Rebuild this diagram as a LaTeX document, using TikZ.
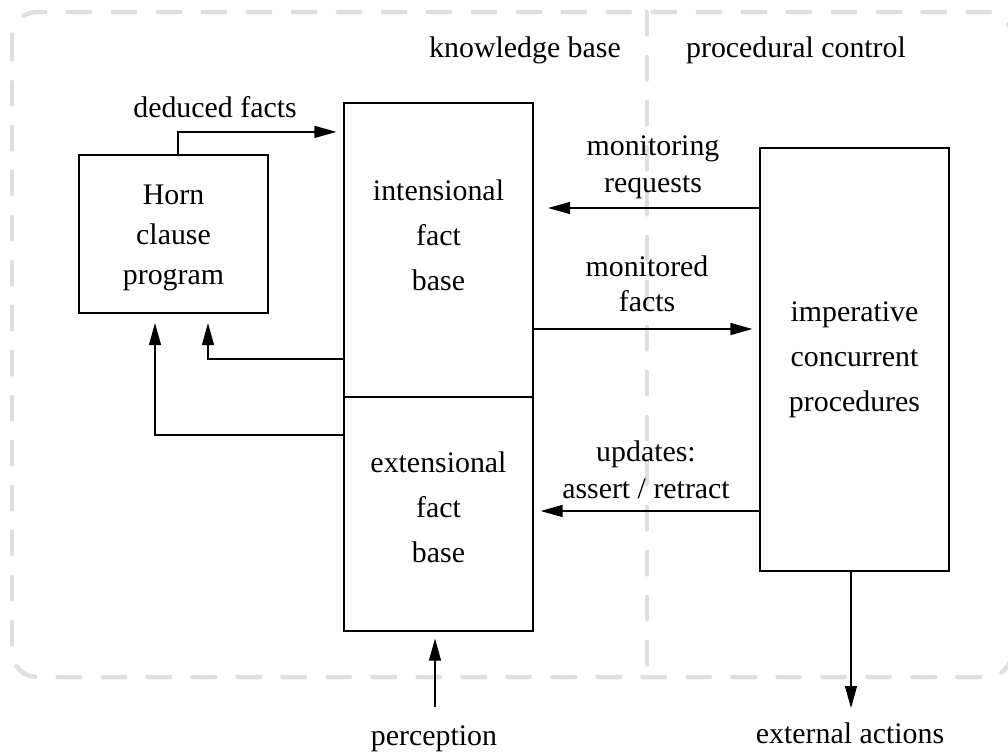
\documentclass[tikz,border=0pt]{standalone}
\usepackage{fontspec}
\setmainfont{Liberation Serif}
\usetikzlibrary{arrows.meta}
\definecolor{framegray}{HTML}{DFDFDF}

\begin{document}
\begin{tikzpicture}[
  x=0.02cm, y=-0.02cm,
  box/.style={draw, line width=0.045cm, minimum width=3.78cm},
  boxtext/.style={align=center, inner sep=1pt, font=\fontsize{17}{25.6}\selectfont},
  lbl/.style={align=center, inner sep=1pt, font=\fontsize{17}{21}\selectfont},
  arrow/.style={-{Triangle[length=0.44cm, width=0.24cm]}, line width=0.026cm, shorten >=0.13cm},
  area/.style={draw=framegray, line width=0.09cm, line cap=round, dash pattern=on 0.45cm off 0.45cm}
]
\useasboundingbox (0,0) rectangle (1008,752);

% dashed areas
\draw[area, rounded corners=0.5cm] (12,12) rectangle (1012,677);
\draw[area] (647,12) -- (647,677);

% boxes
\node[box, minimum height=3.16cm] (horn) at (173.5,234) {};
\node[box, minimum height=5.88cm] (intens) at (438.5,250) {};
\node[box, minimum height=4.68cm] (extens) at (438.5,514) {};
\node[box, minimum height=8.46cm] (imp) at (854.5,359.5) {};

\node[boxtext, font=\fontsize{17}{22.8}\selectfont] (horntext) at ([yshift=-0.08cm]horn.center) {Horn\\clause\\program};
\node[boxtext] (intenstext) at ([yshift=0.3cm]intens.center) {intensional\\fact\\base};
\node[boxtext] (extenstext) at ([yshift=0.14cm]extens.center) {extensional\\fact\\base};
\node[boxtext] (imptext) at (imp.center) {imperative\\concurrent\\procedures};

% labels
\node[lbl, anchor=base] (kb) at (525,57) {knowledge base};
\node[lbl, anchor=base] (pc) at (796,57) {procedural control};
\node[lbl, anchor=base] (deduced) at (215,117) {deduced facts};
\node[lbl] (monreq) at (653,167) {monitoring\\requests};
\node[lbl, font=\fontsize{17}{20}\selectfont] (monfacts) at (647,284) {monitored\\facts};
\node[lbl] (upd) at (646,470) {updates:\\assert / retract};
\node[lbl, anchor=base] (percep) at (434,745) {perception};
\node[lbl, anchor=base] (extact) at (850,743) {external actions};

\coordinate (percin) at (435,707);
\coordinate (extout) at (851,708);

% connectors
\draw[arrow] ([xshift=0.09cm]horn.north) |- ([yshift=-0.6cm]intens.north west);
\draw[arrow, shorten >=0.28cm] (imp.west |- 0,208) -- (intens.east |- 0,208);
\draw[arrow] (intens.east |- 0,329) -- (imp.west |- 0,329);
\draw[arrow] (imp.west |- 0,511) -- (extens.east |- 0,511);
\draw[arrow, shorten >=0.18cm] (intens.west |- 0,359) -| ([xshift=0.69cm]horn.south);
\draw[arrow, shorten >=0.18cm] (extens.west |- 0,435) -| ([xshift=-0.37cm]horn.south);
\draw[arrow] (percin) -- (percin |- extens.south);
\draw[arrow, shorten >=0pt] (imp.south -| extout) -- (extout);
\end{tikzpicture}
\end{document}
